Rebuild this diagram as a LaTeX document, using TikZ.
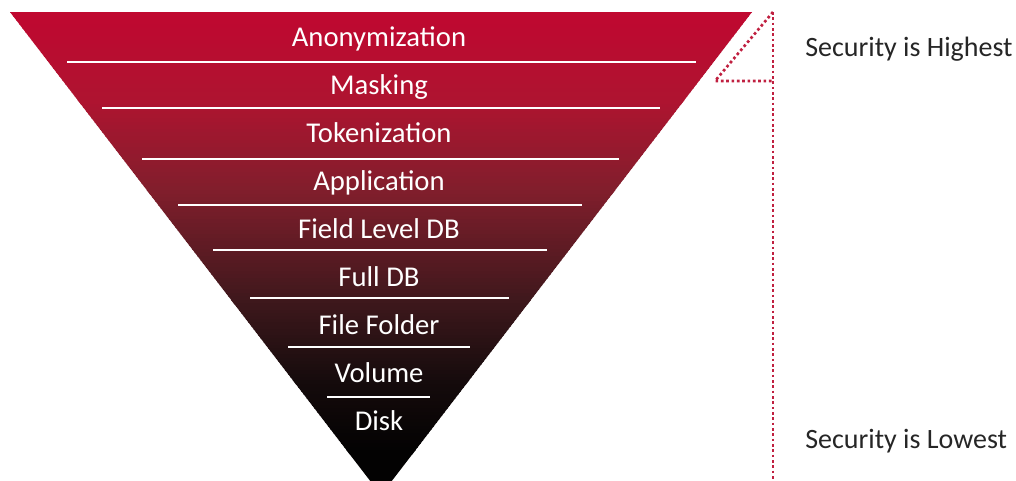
\documentclass[tikz,border=0pt]{standalone}
\usepackage{fontspec}
\setmainfont{Carlito}
\definecolor{g0}{RGB}{194,6,48}
\definecolor{g1}{RGB}{174,20,48}
\definecolor{g2}{RGB}{128,30,44}
\definecolor{g3}{RGB}{62,24,28}
\definecolor{g4}{RGB}{21,11,12}
\definecolor{g5}{RGB}{3,2,2}
\definecolor{dotred}{RGB}{192,32,64}
\definecolor{sidetext}{RGB}{38,38,38}
\newcommand\gseg[5]{%
  \foreach \k in {0,...,#5}{%
    \pgfmathsetmacro\pc{100*\k/#5}%
    \pgfmathsetmacro\ya{#1+(#2-#1)*\k/#5}%
    \pgfmathsetmacro\yb{\ya+(#2-#1)/#5+1}%
    \colorlet{cc}{#4!\pc!#3}%
    \fill[cc] (0,\ya) rectangle (1016,\yb);}}
\tikzset{
  layerlabel/.style={text=white, anchor=base, inner sep=0pt, font=\fontsize{21.5}{26}\selectfont},
  sidelabel/.style={text=sidetext, anchor=base west, inner sep=0pt, font=\fontsize{21}{25}\selectfont},
  sep/.style={white, line width=1.5pt},
  dotline/.style={dotred, line width=2pt, dash pattern=on 2pt off 2pt},
}
\begin{document}
\begin{tikzpicture}[x=0.75pt,y=-0.75pt]
\useasboundingbox (0,0) rectangle (1016,480);
\begin{scope}
  \clip (0,0) rectangle (1016,480);
  \clip (10,12) -- (752,12) -- (381,495) -- cycle;
  \gseg{0}{100}{g0}{g1}{25}
  \gseg{100}{190}{g1}{g2}{25}
  \gseg{190}{300}{g2}{g3}{30}
  \gseg{300}{380}{g3}{g4}{25}
  \gseg{380}{450}{g4}{g5}{20}
  \fill[g5] (0,450) rectangle (1016,500);
\end{scope}
% separators
\draw[sep] (67,62) -- (696,62);
\draw[sep] (102,108) -- (660,108);
\draw[sep] (142,159) -- (619,159);
\draw[sep] (178,205) -- (582,205);
\draw[sep] (213,250) -- (547,250);
\draw[sep] (250,298) -- (509,298);
\draw[sep] (288,347) -- (470,347);
\draw[sep] (327,397) -- (430,397);
% labels
\node[layerlabel] (l1) at (379,46) {Anonymization};
\node[layerlabel] (l2) at (379,94) {Masking};
\node[layerlabel] (l3) at (379,142) {Tokenization};
\node[layerlabel] (l4) at (379,190) {Application};
\node[layerlabel] (l5) at (379,238) {Field Level DB};
\node[layerlabel] (l6) at (379,286) {Full DB};
\node[layerlabel] (l7) at (379,334) {File Folder};
\node[layerlabel] (l8) at (379,382) {Volume};
\node[layerlabel] (l9) at (379,430) {Disk};
% dotted scale
\coordinate (dtop) at (773,12);
\coordinate (dbot) at (773,480);
\coordinate (dcorner) at (773,81);
\coordinate (dleft) at (715,81);
\draw[dotline] (dtop) -- (dbot);
\draw[dotline] (dtop) -- (dleft) -- (dcorner);
\node[sidelabel] (hi) at (805,56) {Security is Highest};
\node[sidelabel] (lo) at (805,448) {Security is Lowest};
\end{tikzpicture}
\end{document}
